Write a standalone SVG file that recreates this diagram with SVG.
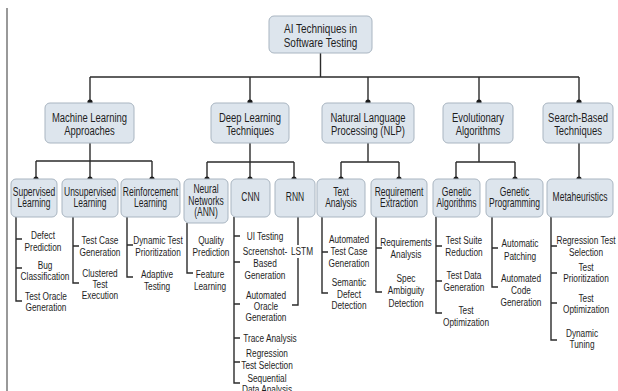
<svg xmlns="http://www.w3.org/2000/svg" width="618" height="391" viewBox="0 0 618 391">
  <style>
    text { font-family: "Liberation Sans", Arial, sans-serif; fill: #1e1e1e; text-anchor: middle; }
    .box { fill: #dde5ed; stroke: #a9b5c1; stroke-width: 1; }
    .t0 { font-size: 13.5px; }
    .t1 { font-size: 13.5px; }
    .t2 { font-size: 12px; }
    .t3 { font-size: 11.5px; }
    .wire { fill: none; stroke: #2b2b2b; stroke-width: 1.4; }
    .dot { fill: #1a1a1a; }
  </style>

  <rect width="618" height="391" fill="#ffffff"/>
  <line x1="7" y1="8" x2="7" y2="391" stroke="#777" stroke-width="1.5"/>

  <!-- connectors -->
  <g id="connectors">
    <path class="wire" d="M320.5 53V77M90 77H579M90 77V103M250 77V103M368 77V103M479 77V103M579 77V179"/>
    <path class="wire" d="M90 143V161M36 161H152M36 161V179M90 161V179M152 161V179"/>
    <path class="wire" d="M250 143V162M207 162H294M207 162V179M250 162V179M294 162V179"/>
    <path class="wire" d="M368 143V162M341 162H399M341 162V179M399 162V179"/>
    <path class="wire" d="M479 143V162M456 162H515M456 162V179M515 162V179"/>
    <g class="dot">
      <circle cx="90" cy="102" r="2.6"/><circle cx="250" cy="102" r="2.6"/><circle cx="368" cy="102" r="2.6"/>
      <circle cx="479" cy="102" r="2.6"/><circle cx="579" cy="102" r="2.6"/>
      <circle cx="36" cy="179" r="2.6"/><circle cx="90" cy="179" r="2.6"/><circle cx="152" cy="179" r="2.6"/>
      <circle cx="207" cy="179" r="2.6"/><circle cx="250" cy="179" r="2.6"/><circle cx="294" cy="179" r="2.6"/>
      <circle cx="341" cy="179" r="2.6"/><circle cx="399" cy="179" r="2.6"/>
      <circle cx="456" cy="179" r="2.6"/><circle cx="515" cy="179" r="2.6"/><circle cx="579" cy="179" r="2.6"/>
    </g>
    <!-- leaf rails -->
    <path class="wire" d="M16 217V301H22M16 239H22M16 268H22"/>
    <path class="wire" d="M73 217V283H79M73 246H79"/>
    <path class="wire" d="M127 217V277H133M127 245H133"/>
    <path class="wire" d="M187 223V273H193"/>
    <path class="wire" d="M234 217V383H240M234 236H240M234 262H240M234 304H240M234 338H240M234 362H240"/>
    <path class="wire" d="M298 217V245M298 258V305H292"/>
    <path class="wire" d="M322 217V293H328M322 252H328"/>
    <path class="wire" d="M376 217V292H382M376 248H382"/>
    <path class="wire" d="M436 217V313H442M436 246H442M436 281H442"/>
    <path class="wire" d="M492 217V287H498M492 248H498"/>
    <path class="wire" d="M551 217V340H557M551 246H557M551 273H557M551 303H557"/>
  </g>

  <!-- root -->
  <g id="root">
    <rect class="box" x="269" y="16" width="103" height="37" rx="5"/>
    <text class="t0" transform="translate(320.5 0) scale(.74 1)"><tspan x="0" y="33">AI Techniques in</tspan><tspan x="0" y="47">Software Testing</tspan></text>
  </g>

  <!-- categories -->
  <g id="ml">
    <rect class="box" x="45" y="103" width="89" height="40" rx="5"/>
    <text class="t1" transform="translate(89.5 0) scale(.7 1)"><tspan x="0" y="122">Machine Learning</tspan><tspan x="0" y="135">Approaches</tspan></text>
  </g>
  <g id="dl">
    <rect class="box" x="211" y="103" width="78" height="40" rx="5"/>
    <text class="t1" transform="translate(250 0) scale(.7 1)"><tspan x="0" y="122">Deep Learning</tspan><tspan x="0" y="135">Techniques</tspan></text>
  </g>
  <g id="nlp">
    <rect class="box" x="322" y="103" width="92" height="40" rx="5"/>
    <text class="t1" transform="translate(368 0) scale(.7 1)"><tspan x="0" y="122">Natural Language</tspan><tspan x="0" y="135">Processing (NLP)</tspan></text>
  </g>
  <g id="evo">
    <rect class="box" x="443" y="103" width="70" height="40" rx="5"/>
    <text class="t1" transform="translate(478 0) scale(.7 1)"><tspan x="0" y="122">Evolutionary</tspan><tspan x="0" y="135">Algorithms</tspan></text>
  </g>
  <g id="search">
    <rect class="box" x="543" y="103" width="70" height="40" rx="5"/>
    <text class="t1" transform="translate(578 0) scale(.7 1)"><tspan x="0" y="122">Search-Based</tspan><tspan x="0" y="135">Techniques</tspan></text>
  </g>

  <!-- methods -->
  <g id="supervised">
    <rect class="box" x="11" y="179" width="46" height="38" rx="5"/>
    <text class="t2" transform="translate(34 0) scale(.71 1)"><tspan x="0" y="196">Supervised</tspan><tspan x="0" y="207">Learning</tspan></text>
  </g>
  <g id="unsupervised">
    <rect class="box" x="62" y="179" width="56" height="38" rx="5"/>
    <text class="t2" transform="translate(90 0) scale(.71 1)"><tspan x="0" y="196">Unsupervised</tspan><tspan x="0" y="207">Learning</tspan></text>
  </g>
  <g id="reinforcement">
    <rect class="box" x="121" y="179" width="59" height="38" rx="5"/>
    <text class="t2" transform="translate(150.5 0) scale(.71 1)"><tspan x="0" y="196">Reinforcement</tspan><tspan x="0" y="207">Learning</tspan></text>
  </g>
  <g id="ann">
    <rect class="box" x="184" y="179" width="44" height="44" rx="5"/>
    <text class="t2" transform="translate(206 0) scale(.71 1)"><tspan x="0" y="193">Neural</tspan><tspan x="0" y="205">Networks</tspan><tspan x="0" y="216">(ANN)</tspan></text>
  </g>
  <g id="cnn">
    <rect class="box" x="231" y="179" width="39" height="38" rx="5"/>
    <text class="t2" transform="translate(250.5 0) scale(.71 1)"><tspan x="0" y="201">CNN</tspan></text>
  </g>
  <g id="rnn">
    <rect class="box" x="275" y="179" width="40" height="38" rx="5"/>
    <text class="t2" transform="translate(295 0) scale(.71 1)"><tspan x="0" y="201">RNN</tspan></text>
  </g>
  <g id="text-analysis">
    <rect class="box" x="317" y="179" width="48" height="38" rx="5"/>
    <text class="t2" transform="translate(341 0) scale(.71 1)"><tspan x="0" y="196">Text</tspan><tspan x="0" y="207">Analysis</tspan></text>
  </g>
  <g id="req-extraction">
    <rect class="box" x="371" y="179" width="56" height="38" rx="5"/>
    <text class="t2" transform="translate(399 0) scale(.71 1)"><tspan x="0" y="196">Requirement</tspan><tspan x="0" y="207">Extraction</tspan></text>
  </g>
  <g id="genetic-algorithms">
    <rect class="box" x="433" y="179" width="47" height="38" rx="5"/>
    <text class="t2" transform="translate(456.5 0) scale(.71 1)"><tspan x="0" y="196">Genetic</tspan><tspan x="0" y="207">Algorithms</tspan></text>
  </g>
  <g id="genetic-programming">
    <rect class="box" x="486" y="179" width="57" height="38" rx="5"/>
    <text class="t2" transform="translate(514.5 0) scale(.71 1)"><tspan x="0" y="196">Genetic</tspan><tspan x="0" y="207">Programming</tspan></text>
  </g>
  <g id="metaheuristics">
    <rect class="box" x="547" y="179" width="66" height="38" rx="5"/>
    <text class="t2" transform="translate(580 0) scale(.71 1)"><tspan x="0" y="201">Metaheuristics</tspan></text>
  </g>

  <!-- applications -->
  <g id="defect-prediction"><text class="t3" transform="translate(43 0) scale(.72 1)"><tspan x="0" y="239">Defect</tspan><tspan x="0" y="251">Prediction</tspan></text></g>
  <g id="bug-classification"><text class="t3" transform="translate(45 0) scale(.72 1)"><tspan x="0" y="269">Bug</tspan><tspan x="0" y="280">Classification</tspan></text></g>
  <g id="test-oracle-generation"><text class="t3" transform="translate(46 0) scale(.72 1)"><tspan x="0" y="300">Test Oracle</tspan><tspan x="0" y="311">Generation</tspan></text></g>

  <g id="test-case-generation"><text class="t3" transform="translate(100 0) scale(.72 1)"><tspan x="0" y="244">Test Case</tspan><tspan x="0" y="256">Generation</tspan></text></g>
  <g id="clustered-test-execution"><text class="t3" transform="translate(100 0) scale(.72 1)"><tspan x="0" y="277">Clustered</tspan><tspan x="0" y="288">Test</tspan><tspan x="0" y="299">Execution</tspan></text></g>

  <g id="dynamic-test-prioritization"><text class="t3" transform="translate(158 0) scale(.72 1)"><tspan x="0" y="244">Dynamic Test</tspan><tspan x="0" y="256">Prioritization</tspan></text></g>
  <g id="adaptive-testing"><text class="t3" transform="translate(157 0) scale(.72 1)"><tspan x="0" y="278">Adaptive</tspan><tspan x="0" y="290">Testing</tspan></text></g>

  <g id="quality-prediction"><text class="t3" transform="translate(211 0) scale(.72 1)"><tspan x="0" y="244">Quality</tspan><tspan x="0" y="256">Prediction</tspan></text></g>
  <g id="feature-learning"><text class="t3" transform="translate(210 0) scale(.72 1)"><tspan x="0" y="278">Feature</tspan><tspan x="0" y="290">Learning</tspan></text></g>

  <g id="ui-testing"><text class="t3" transform="translate(265 0) scale(.72 1)"><tspan x="0" y="240">UI Testing</tspan></text></g>
  <g id="screenshot-generation"><text class="t3" transform="translate(265 0) scale(.72 1)"><tspan x="0" y="255">Screenshot-</tspan><tspan x="0" y="267">Based</tspan><tspan x="0" y="279">Generation</tspan></text></g>
  <g id="automated-oracle-generation"><text class="t3" transform="translate(266 0) scale(.72 1)"><tspan x="0" y="299">Automated</tspan><tspan x="0" y="310">Oracle</tspan><tspan x="0" y="321">Generation</tspan></text></g>
  <g id="trace-analysis"><text class="t3" transform="translate(270 0) scale(.72 1)"><tspan x="0" y="342">Trace Analysis</tspan></text></g>
  <g id="regression-test-selection"><text class="t3" transform="translate(267 0) scale(.72 1)"><tspan x="0" y="357">Regression</tspan><tspan x="0" y="369">Test Selection</tspan></text></g>
  <g id="sequential-data-analysis"><text class="t3" transform="translate(267 0) scale(.72 1)"><tspan x="0" y="382">Sequential</tspan><tspan x="0" y="393">Data Analysis</tspan></text></g>

  <g id="lstm"><text class="t3" transform="translate(302 0) scale(.72 1)"><tspan x="0" y="255">LSTM</tspan></text></g>

  <g id="automated-test-case-generation"><text class="t3" transform="translate(349 0) scale(.72 1)"><tspan x="0" y="243">Automated</tspan><tspan x="0" y="255">Test Case</tspan><tspan x="0" y="267">Generation</tspan></text></g>
  <g id="semantic-defect-detection"><text class="t3" transform="translate(349 0) scale(.72 1)"><tspan x="0" y="286">Semantic</tspan><tspan x="0" y="298">Defect</tspan><tspan x="0" y="309">Detection</tspan></text></g>

  <g id="requirements-analysis"><text class="t3" transform="translate(406 0) scale(.72 1)"><tspan x="0" y="246">Requirements</tspan><tspan x="0" y="258">Analysis</tspan></text></g>
  <g id="spec-ambiguity-detection"><text class="t3" transform="translate(406 0) scale(.72 1)"><tspan x="0" y="282">Spec</tspan><tspan x="0" y="294">Ambiguity</tspan><tspan x="0" y="307">Detection</tspan></text></g>

  <g id="test-suite-reduction"><text class="t3" transform="translate(464 0) scale(.72 1)"><tspan x="0" y="244">Test Suite</tspan><tspan x="0" y="256">Reduction</tspan></text></g>
  <g id="test-data-generation"><text class="t3" transform="translate(464 0) scale(.72 1)"><tspan x="0" y="279">Test Data</tspan><tspan x="0" y="291">Generation</tspan></text></g>
  <g id="ga-test-optimization"><text class="t3" transform="translate(466 0) scale(.72 1)"><tspan x="0" y="314">Test</tspan><tspan x="0" y="326">Optimization</tspan></text></g>

  <g id="automatic-patching"><text class="t3" transform="translate(520 0) scale(.72 1)"><tspan x="0" y="247">Automatic</tspan><tspan x="0" y="260">Patching</tspan></text></g>
  <g id="automated-code-generation"><text class="t3" transform="translate(521 0) scale(.72 1)"><tspan x="0" y="282">Automated</tspan><tspan x="0" y="294">Code</tspan><tspan x="0" y="306">Generation</tspan></text></g>

  <g id="meta-regression-test-selection"><text class="t3" transform="translate(586 0) scale(.72 1)"><tspan x="0" y="244">Regression Test</tspan><tspan x="0" y="256">Selection</tspan></text></g>
  <g id="test-prioritization"><text class="t3" transform="translate(586 0) scale(.72 1)"><tspan x="0" y="271">Test</tspan><tspan x="0" y="282">Prioritization</tspan></text></g>
  <g id="meta-test-optimization"><text class="t3" transform="translate(586 0) scale(.72 1)"><tspan x="0" y="302">Test</tspan><tspan x="0" y="313">Optimization</tspan></text></g>
  <g id="dynamic-tuning"><text class="t3" transform="translate(582 0) scale(.72 1)"><tspan x="0" y="337">Dynamic</tspan><tspan x="0" y="348">Tuning</tspan></text></g>
</svg>
